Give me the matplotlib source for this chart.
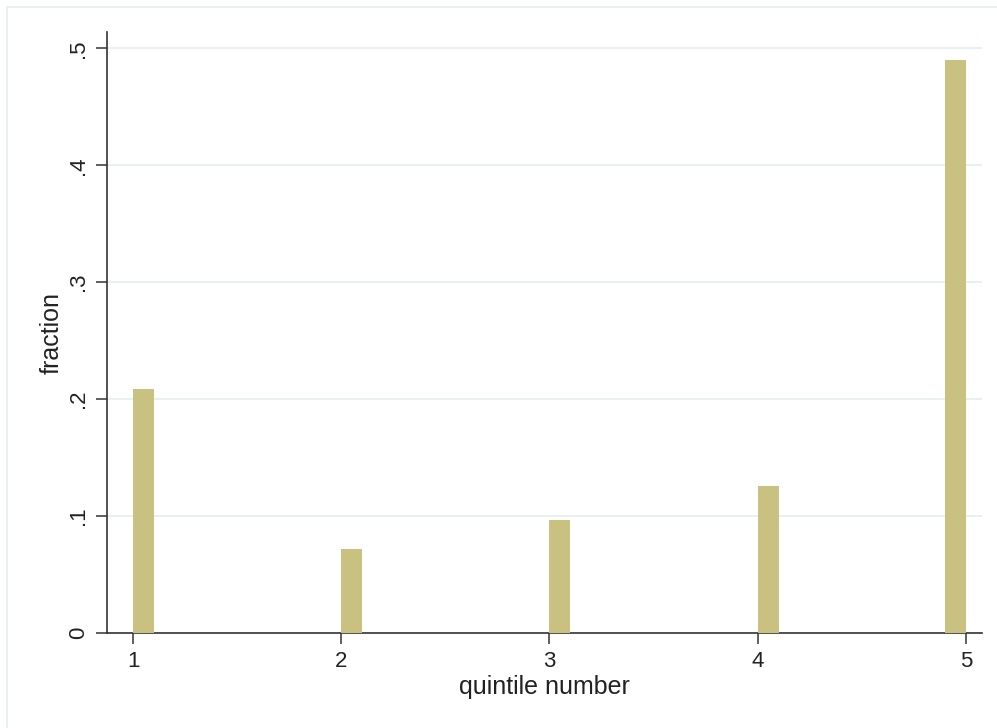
import matplotlib.pyplot as plt
from matplotlib.lines import Line2D

# bin starts (width 0.1) and fractions
bin_left = [1.0, 2.0, 3.0, 4.0, 4.9]
fraction = [0.209, 0.072, 0.097, 0.126, 0.490]
bin_width = 0.1

x_ticks = [1, 2, 3, 4, 5]
y_ticks = [0, 0.1, 0.2, 0.3, 0.4, 0.5]
y_labels = ["0", ".1", ".2", ".3", ".4", ".5"]

plt.rcParams['font.family'] = ['Liberation Sans', 'DejaVu Sans']

fig = plt.figure(figsize=(9.97, 7.28), dpi=100)
W, H = 997, 728
ax = fig.add_axes([107 / W, (H - 633) / H, (982 - 107) / W, (633 - 32) / H])

ax.bar(bin_left, fraction, width=bin_width, align='edge',
       color='#c9c17f', edgecolor='none', zorder=3)

ax.set_xlim(0.875, 5.077)
ax.set_ylim(0, 0.514)
ax.set_xticks(x_ticks)
ax.set_yticks(y_ticks)
ax.set_yticklabels(y_labels, rotation=90, va='center')

ax.grid(axis='y', color='#e4eef0', linewidth=1.2, zorder=0)
ax.set_axisbelow(True)

for side in ['top', 'right']:
    ax.spines[side].set_visible(False)
for side in ['left', 'bottom']:
    ax.spines[side].set_color('#333333')
    ax.spines[side].set_linewidth(1.2)

ax.tick_params(axis='both', direction='out', length=8, width=1.1,
               color='#333333', labelsize=16, labelcolor='#222222', pad=5)

ax.set_xlabel('quintile number', fontsize=18, color='#222222', labelpad=2)
ax.set_ylabel('fraction', fontsize=18, color='#222222', labelpad=3)

# faint outer frame of the graph region
fig.add_artist(Line2D([7 / W, 7 / W], [0, 1 - 7 / H], transform=fig.transFigure,
                      color='#e6eef0', linewidth=1.2))
fig.add_artist(Line2D([7 / W, 1], [1 - 7 / H, 1 - 7 / H], transform=fig.transFigure,
                      color='#e6eef0', linewidth=1.2))

fig.savefig('out.png', dpi=100)
